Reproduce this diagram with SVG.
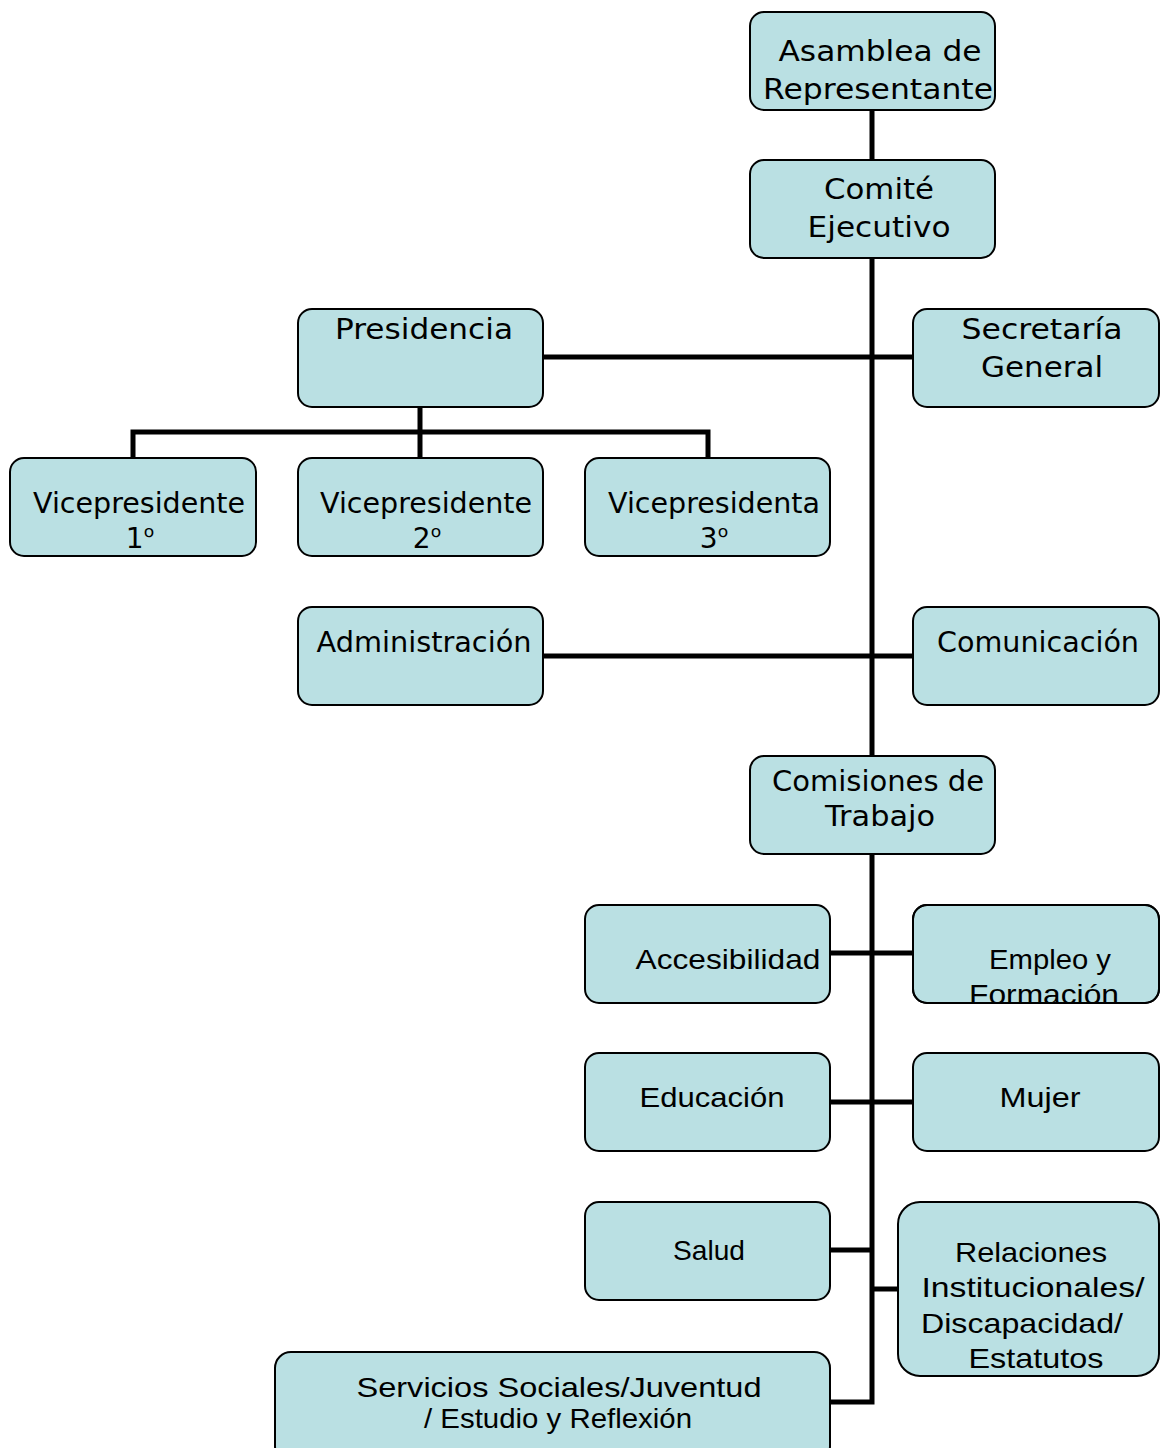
<svg xmlns="http://www.w3.org/2000/svg" width="1161" height="1448" viewBox="0 0 1161 1448">
<style>
.box{fill:#BAE0E3;stroke:#000;stroke-width:2}
.v{font-family:"DejaVu Sans",Verdana,sans-serif;font-size:28px;fill:#000;text-anchor:middle}
.a{font-family:"Liberation Sans",Arial,sans-serif;font-size:28px;fill:#000;text-anchor:middle}
.o{font-family:"Open Sans","Noto Sans",sans-serif}
.c{fill:none;stroke:#000;stroke-width:5;stroke-linecap:butt;stroke-linejoin:miter}
</style>
<defs>
<clipPath id="clipEmpleo"><rect x="913" y="905" width="246" height="98" rx="14"/></clipPath>
</defs>
<rect width="1161" height="1448" fill="#fff"/>
<g id="connectors">
<path class="c" d="M872 110 V756"/>
<path class="c" d="M872 854 V1402 H830"/>
<path class="c" d="M543 357 H913"/>
<path class="c" d="M420 407 V458"/>
<path class="c" d="M133 458 V432 H708 V458"/>
<path class="c" d="M543 656 H913"/>
<path class="c" d="M830 953 H913"/>
<path class="c" d="M830 1102 H913"/>
<path class="c" d="M830 1250 H872"/>
<path class="c" d="M872 1289 H898"/>
</g>
<g id="asamblea"><rect class="box" x="750" y="12" width="245" height="98" rx="14"/>
<text class="v" x="880" y="61" textLength="203" lengthAdjust="spacingAndGlyphs">Asamblea de</text>
<text class="v" x="878" y="99" textLength="230" lengthAdjust="spacingAndGlyphs">Representante</text></g>
<g id="comite"><rect class="box" x="750" y="160" width="245" height="98" rx="14"/>
<text class="v" x="879" y="199" textLength="110" lengthAdjust="spacingAndGlyphs">Comité</text>
<text class="v" x="879" y="237" textLength="143" lengthAdjust="spacingAndGlyphs">Ejecutivo</text></g>
<g id="presidencia"><rect class="box" x="298" y="309" width="245" height="98" rx="14"/>
<text class="v" x="424" y="339" textLength="178" lengthAdjust="spacingAndGlyphs">Presidencia</text></g>
<g id="secretaria"><rect class="box" x="913" y="309" width="246" height="98" rx="14"/>
<text class="v" x="1042" y="339" textLength="161" lengthAdjust="spacingAndGlyphs">Secretaría</text>
<text class="v" x="1042" y="377" textLength="122" lengthAdjust="spacingAndGlyphs">General</text></g>
<g id="vice1"><rect class="box" x="10" y="458" width="246" height="98" rx="14"/>
<text class="v" x="139" y="513" textLength="212" lengthAdjust="spacingAndGlyphs">Vicepresidente</text>
<text class="v" x="140" y="548">1<tspan class="o">º</tspan></text></g>
<g id="vice2"><rect class="box" x="298" y="458" width="245" height="98" rx="14"/>
<text class="v" x="426" y="513" textLength="212" lengthAdjust="spacingAndGlyphs">Vicepresidente</text>
<text class="v" x="427" y="548">2<tspan class="o">º</tspan></text></g>
<g id="vice3"><rect class="box" x="585" y="458" width="245" height="98" rx="14"/>
<text class="v" x="714" y="513" textLength="212" lengthAdjust="spacingAndGlyphs">Vicepresidenta</text>
<text class="v" x="714" y="548">3<tspan class="o">º</tspan></text></g>
<g id="administracion"><rect class="box" x="298" y="607" width="245" height="98" rx="14"/>
<text class="v" x="424" y="652" textLength="215" lengthAdjust="spacingAndGlyphs">Administración</text></g>
<g id="comunicacion"><rect class="box" x="913" y="607" width="246" height="98" rx="14"/>
<text class="v" x="1038" y="652" textLength="202" lengthAdjust="spacingAndGlyphs">Comunicación</text></g>
<g id="comisiones"><rect class="box" x="750" y="756" width="245" height="98" rx="14"/>
<text class="v" x="878" y="791" textLength="212" lengthAdjust="spacingAndGlyphs">Comisiones de</text>
<text class="v" x="880" y="826" textLength="110" lengthAdjust="spacingAndGlyphs">Trabajo</text></g>
<g id="accesibilidad"><rect class="box" x="585" y="905" width="245" height="98" rx="14"/>
<text class="a" x="728" y="969" textLength="185" lengthAdjust="spacingAndGlyphs">Accesibilidad</text></g>
<g id="empleo"><rect class="box" x="913" y="905" width="246" height="98" rx="14"/>
<g clip-path="url(#clipEmpleo)">
<text class="a" x="1050" y="969" textLength="122" lengthAdjust="spacingAndGlyphs">Empleo y</text>
<text class="a" x="1044" y="1004" textLength="150" lengthAdjust="spacingAndGlyphs">Formación</text></g>
<rect x="913" y="905" width="246" height="98" rx="14" fill="none" stroke="#000" stroke-width="2"/></g>
<g id="educacion"><rect class="box" x="585" y="1053" width="245" height="98" rx="14"/>
<text class="a" x="712" y="1107" textLength="145" lengthAdjust="spacingAndGlyphs">Educación</text></g>
<g id="mujer"><rect class="box" x="913" y="1053" width="246" height="98" rx="14"/>
<text class="a" x="1040" y="1107" textLength="81" lengthAdjust="spacingAndGlyphs">Mujer</text></g>
<g id="salud"><rect class="box" x="585" y="1202" width="245" height="98" rx="14"/>
<text class="a" x="709" y="1260" textLength="72" lengthAdjust="spacingAndGlyphs">Salud</text></g>
<g id="relaciones"><rect class="box" x="898" y="1202" width="261" height="174" rx="22"/>
<text class="a" x="1031" y="1262" textLength="152" lengthAdjust="spacingAndGlyphs">Relaciones</text>
<text class="a" x="1033" y="1297" textLength="223" lengthAdjust="spacingAndGlyphs">Institucionales/</text>
<text class="a" x="1022" y="1333" textLength="202" lengthAdjust="spacingAndGlyphs">Discapacidad/</text>
<text class="a" x="1036" y="1368" textLength="135" lengthAdjust="spacingAndGlyphs">Estatutos</text></g>
<g id="servicios"><rect class="box" x="275" y="1352" width="555" height="110" rx="16"/>
<text class="a" x="559" y="1397" textLength="405" lengthAdjust="spacingAndGlyphs">Servicios Sociales/Juventud</text>
<text class="a" x="558" y="1428" textLength="268" lengthAdjust="spacingAndGlyphs">/ Estudio y Reflexión</text></g>
</svg>
